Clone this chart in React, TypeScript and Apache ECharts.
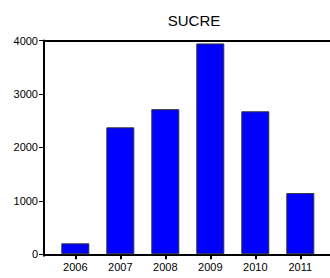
import React, { useEffect, useRef } from "react";
import * as echarts from "echarts";

const years = [2006, 2007, 2008, 2009, 2010, 2011];
const values = [205, 2375, 2715, 3945, 2675, 1145];
const yTicks = [0, 1000, 2000, 3000, 4000];
const titleText = "SUCRE";

export default function App() {
  const ref = useRef<HTMLDivElement>(null);
  useEffect(() => {
    document.body.style.margin = "0";
    const chart = echarts.init(ref.current!, undefined, { renderer: "svg" });
    const font = "'Liberation Sans', Arial, sans-serif";
    chart.setOption({
      animation: false,
      backgroundColor: "#ffffff",
      title: {
        text: titleText,
        left: 189,
        top: 8,
        textAlign: "center",
        textStyle: { fontSize: 15, fontWeight: "normal", color: "#000", fontFamily: font },
      },
      grid: { left: 44, right: 0, top: 40.5, bottom: 22.2, containLabel: false },
      xAxis: [
        {
          type: "value",
          position: "bottom",
          min: 2005.304,
          max: 2011.66,
          axisLine: { show: true, lineStyle: { color: "#000", width: 2 } },
          axisTick: { show: true, customValues: years, length: 5, lineStyle: { color: "#000", width: 2 } },
          axisLabel: {
            customValues: years,
            formatter: (v: number) => String(v),
            fontSize: 11,
            color: "#000",
            fontFamily: font,
            margin: 6,
          },
          splitLine: { show: false },
        },
        {
          type: "value",
          position: "top",
          min: 2005.304,
          max: 2011.66,
          axisLine: { show: true, lineStyle: { color: "#000", width: 2 } },
          axisTick: { show: false },
          axisLabel: { show: false },
          splitLine: { show: false },
        },
      ],
      yAxis: {
        type: "value",
        min: -28,
        max: 4000,
        axisLine: { show: true, lineStyle: { color: "#000", width: 2 } },
        axisTick: { show: true, customValues: yTicks, length: 5, lineStyle: { color: "#000", width: 1 } },
        axisLabel: {
          customValues: yTicks,
          formatter: (v: number) => String(v),
          fontSize: 11,
          color: "#000",
          fontFamily: font,
          margin: 6,
        },
        splitLine: { show: false },
      },
      series: [
        {
          type: "bar",
          xAxisIndex: 0,
          barWidth: 28,
          data: years.map((y, i) => [y, values[i]]),
          itemStyle: { color: "#0000ff", borderColor: "#333333", borderWidth: 1 },
        },
      ],
    });
    return () => chart.dispose();
  }, []);
  return <div ref={ref} style={{ width: 330, height: 278 }} />;
}
